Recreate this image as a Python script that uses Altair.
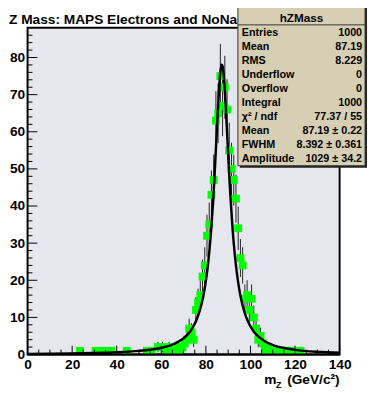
import altair as alt
import pandas as pd

# ---- data ----
bin_centers = [23.5, 30.5, 33.5, 35.5, 37.5, 44.5, 53.5, 55.5, 58.5, 60.5, 62.5, 63.5,
               65.5, 66.5, 67.5, 68.5, 69.5, 70.5, 71.5, 72.5, 73.5, 74.5, 75.5, 76.5,
               77.5, 78.5, 79.5, 80.5, 81.5, 82.5, 83.5, 84.5, 85.5, 86.5, 87.5, 88.5,
               89.5, 90.5, 91.5, 92.5, 93.5, 94.5, 95.5, 96.5, 97.5, 98.5, 99.5, 100.5,
               101.5, 102.5, 103.5, 104.5, 105.5, 106.5, 107.5, 108.5, 110.5, 112.5,
               113.5, 116.5, 118.5, 121.5, 122.5]
counts = [1, 1, 1, 1, 1, 1, 1, 1, 2, 2, 1, 2,
          1, 1, 2, 1, 2, 3, 4, 7, 6, 4, 12, 14,
          16, 21, 24, 32, 35, 43, 47, 63, 65, 75, 67, 72,
          66, 55, 50, 47, 42, 34, 26, 24, 15, 16, 12, 15,
          10, 7, 4, 5, 3, 1, 2, 1, 1, 1,
          1, 1, 1, 1, 1]

fit_x = [0, 10, 20, 30, 40, 50, 55, 60, 65, 67.5, 70, 73, 75, 76, 78, 79, 80, 81, 82, 83,
         83.5, 84, 84.5, 85, 85.5, 86, 86.5, 87, 87.19, 87.5, 88, 88.5, 89, 89.5, 90,
         90.5, 91, 92, 93, 94, 95, 96, 97, 98, 100, 102, 103, 106, 110, 115, 120, 130, 140]
fit_y = [0.18, 0.23, 0.30, 0.42, 0.61, 0.98, 1.30, 1.82, 2.69, 3.39, 4.39, 6.27, 8.27, 9.62,
         13.47, 16.23, 19.83, 24.58, 30.85, 39.08, 44.02, 49.47, 55.32, 61.36, 67.17, 72.25,
         76.0, 77.9, 78.06, 77.64, 75.25, 71.13, 65.8, 59.9, 53.9, 48.1, 42.8, 33.7, 26.76,
         21.5, 17.49, 14.43, 12.07, 10.22, 7.56, 5.80, 5.14, 3.70, 2.56, 1.74, 1.26, 0.74, 0.49]

x_major = [0, 20, 40, 60, 80, 100, 120, 140]
x_minor = [5, 10, 15, 25, 30, 35, 45, 50, 55, 65, 70, 75, 85, 90, 95, 105, 110, 115, 125, 130, 135]
y_major = [0, 10, 20, 30, 40, 50, 60, 70, 80]
y_minor = [2, 4, 6, 8, 12, 14, 16, 18, 22, 24, 26, 28, 32, 34, 36, 38, 42, 44, 46, 48,
           52, 54, 56, 58, 62, 64, 66, 68, 72, 74, 76, 78, 82, 84, 86]

stat_title = "hZMass"
stat_labels = ["Entries", "Mean", "RMS", "Underflow", "Overflow", "Integral",
               "\u03c7\u00b2 / ndf", "Mean", "FWHM", "Amplitude"]
stat_values = ["1000", "87.19", "8.229", "0", "0", "1000", "77.37 / 55",
               "87.19 \u00b1 0.22", "8.392 \u00b1 0.361", "1029 \u00b1 34.2"]
hist_title = "Z Mass: MAPS Electrons and NoNarm"

# ---- layout ----
W, H = 319, 334
FONT = "Liberation Sans"

hist = pd.DataFrame({"x": bin_centers, "n": counts})
hist["lo"] = hist["n"] - hist["n"] ** 0.5
hist["hi"] = hist["n"] + hist["n"] ** 0.5
fit = pd.DataFrame({"fx": fit_x, "fy": fit_y})

xs = alt.Scale(domain=[0, 140], nice=False, zero=False)
ys = alt.Scale(domain=[0, 88], nice=False, zero=False)

xaxis = alt.Axis(title=None, values=x_major, ticks=False, domain=False, grid=False,
                 labelFont=FONT, labelFontWeight="bold", labelFontSize=14,
                 labelPadding=3, labelColor="black", labelFlush=False, labelOverlap=False)
yaxis = alt.Axis(title=None, values=y_major, ticks=False, domain=False, grid=False,
                 labelFont=FONT, labelFontWeight="bold", labelFontSize=14,
                 labelPadding=3, labelColor="black", labelOverlap=False)

X = lambda f: alt.X(f, scale=xs, axis=xaxis, title=None)
Y = lambda f: alt.Y(f, scale=ys, axis=yaxis, title=None)

base = alt.Chart(hist)
errs = base.mark_rule(color="#222222", strokeWidth=1).encode(
    x=X("x:Q"), y=Y("lo:Q"), y2="hi:Q",
)
pts = base.mark_square(size=64, color="#00ff00", opacity=1, filled=True).encode(
    x=X("x:Q"), y=Y("n:Q"),
)
fitline = alt.Chart(fit).mark_line(color="black", strokeWidth=2.5, interpolate="monotone").encode(
    x=X("fx:Q"), y=Y("fy:Q"),
)

def xticks(vals, length):
    return alt.Chart(pd.DataFrame({"v": vals})).mark_rule(color="black", strokeWidth=1).encode(
        x=X("v:Q"), y=alt.value(H), y2=alt.value(H - length))

def yticks(vals, length):
    return alt.Chart(pd.DataFrame({"v": vals})).mark_rule(color="black", strokeWidth=1).encode(
        y=Y("v:Q"), x=alt.value(0), x2=alt.value(length))

one = pd.DataFrame({"k": [0]})
bottom_line = alt.Chart(one).mark_rule(color="black", strokeWidth=2).encode(
    x=alt.value(0), x2=alt.value(W), y=alt.value(H))

title_txt = alt.Chart(one).mark_text(text=hist_title, font=FONT, fontWeight="bold", fontSize=14,
                                     align="left", baseline="alphabetic", color="black").encode(
    x=alt.value(-19), y=alt.value(-4))

xt_m = alt.Chart(one).mark_text(text="m", font=FONT, fontWeight="bold", fontSize=14,
                                align="left", baseline="middle", color="black").encode(
    x=alt.value(242), y=alt.value(360))
xt_z = alt.Chart(one).mark_text(text="Z", font=FONT, fontWeight="bold", fontSize=9,
                                align="left", baseline="middle", color="black").encode(
    x=alt.value(254), y=alt.value(365))
xt_u = alt.Chart(one).mark_text(text="(GeV/c\u00b2)", font=FONT, fontWeight="bold", fontSize=14,
                                align="right", baseline="middle", color="black").encode(
    x=alt.value(319), y=alt.value(360))

# stats box (pixel offsets relative to plot area)
BX0, BX1, BY0, BY1 = 215, 345, -23, 141
shadow = alt.Chart(one).mark_rect(color="#222222").encode(
    x=alt.value(BX0 + 2), x2=alt.value(BX1 + 2), y=alt.value(BY0 + 2), y2=alt.value(BY1 + 2))
box = alt.Chart(one).mark_rect(fill="#d6cfb3", stroke="#333333", strokeWidth=1).encode(
    x=alt.value(BX0), x2=alt.value(BX1), y=alt.value(BY0), y2=alt.value(BY1))
box_line = alt.Chart(one).mark_rule(color="#333333", strokeWidth=1).encode(
    x=alt.value(BX0), x2=alt.value(BX1), y=alt.value(-3))
box_title = alt.Chart(one).mark_text(text=stat_title, font=FONT, fontWeight="bold", fontSize=12,
                                     align="center", baseline="middle", color="black").encode(
    x=alt.value((BX0 + BX1) / 2), y=alt.value(-10))
box_labels = alt.Chart(one).mark_text(text=stat_labels, font=FONT, fontWeight="bold", fontSize=11,
                                      lineHeight=14.3, align="left", baseline="top",
                                      color="black").encode(
    x=alt.value(BX0 + 4), y=alt.value(-1))
box_values = alt.Chart(one).mark_text(text=stat_values, font=FONT, fontWeight="bold", fontSize=11,
                                      lineHeight=14.3, align="right", baseline="top",
                                      color="black").encode(
    x=alt.value(BX1 - 3), y=alt.value(-1))

chart = alt.layer(
    errs, pts, fitline,
    xticks(x_major, 9), xticks(x_minor, 5), yticks(y_major, 10), yticks(y_minor, 5),
    bottom_line, title_txt, xt_m, xt_z, xt_u,
    shadow, box, box_line, box_title, box_labels, box_values,
).properties(
    width=W, height=H,
    autosize=alt.AutoSizeParams(type="none"),
    padding={"left": 20, "top": 16, "right": 28, "bottom": 31},
    background="white",
).configure_view(
    fill="#e6e6ee", stroke="black", strokeWidth=2,
)

chart.save("out.html", embed_options={"renderer": "svg", "actions": False})
